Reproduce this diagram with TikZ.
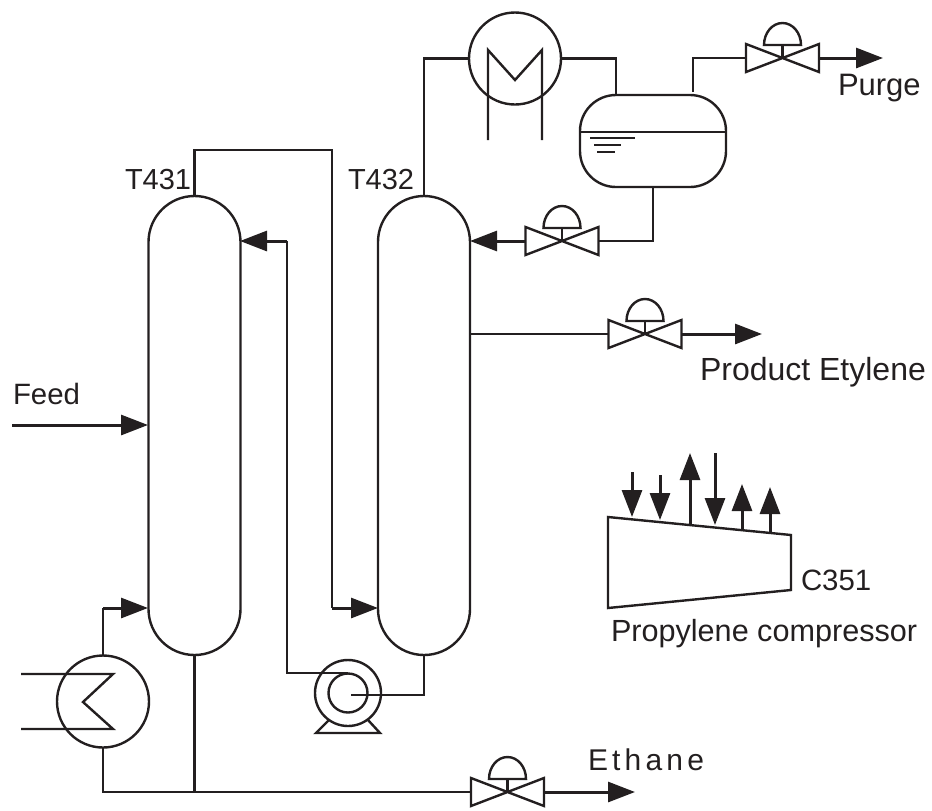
\documentclass[tikz,border=0pt]{standalone}
\usepackage{fontspec}
\setmainfont{Liberation Sans}
\usetikzlibrary{arrows.meta}
\definecolor{ink}{HTML}{231F20}
\tikzset{
  pipe/.style={draw=ink,line width=1.2pt,line join=miter},
  flow/.style={draw=ink,line width=1.5pt,-{Triangle[length=13.5pt,width=10pt]},color=ink},
  column/.style={draw=ink,line width=1.2pt,rectangle,rounded corners=23pt,minimum width=46pt,minimum height=229.5pt,inner sep=0pt,outer sep=0pt},
  drumbox/.style={draw=ink,line width=1.2pt,rectangle,rounded corners=18pt,minimum width=73pt,minimum height=46pt,inner sep=0pt,outer sep=0pt},
  exch/.style={draw=ink,line width=1.2pt,circle,minimum size=46pt,inner sep=0pt,outer sep=0pt},
  pumpouter/.style={draw=ink,line width=1.2pt,circle,minimum size=33pt,inner sep=0pt,outer sep=0pt},
  pumpinner/.style={draw=ink,line width=1.2pt,circle,minimum size=19.5pt,inner sep=0pt,outer sep=0pt},
  valvebox/.style={rectangle,minimum width=36.5pt,minimum height=14pt,inner sep=0pt,outer sep=0pt},
  lab/.style={anchor=base west,inner sep=0pt,outer sep=0pt,text=ink,font=\fontsize{15.5}{18}\selectfont},
}
\newcommand{\ctlvalve}[3]{%
  \node[valvebox] (#1) at (#2,#3) {};
  \draw[pipe,shift={(#2,#3)}] (-36.5,-14) -- (36.5,14) -- (36.5,-14) -- (-36.5,14) -- cycle;
  \draw[pipe,shift={(#2,#3)}] (0,0) -- (0,-13);
  \draw[pipe,shift={(#2,#3)}] (-18.5,-13) arc[start angle=180,end angle=0,x radius=9.25pt,y radius=11pt] -- cycle;
}
\begin{document}
\begin{tikzpicture}[x=0.5pt,y=-0.5pt]
\useasboundingbox (0,0) rectangle (932,810);

% columns
\node[column] (T431) at (194.5,425.5) {};
\node[column] (T432) at (424,425.5) {};

% condenser
\node[exch] (cond) at (515,58.5) {};
\draw[pipe] (488,140) -- (488,50) -- (515,80) -- (542,50) -- (542,140);

% drum
\node[drumbox] (drum) at (653,141) {};
\draw[pipe] (drum.west |- 0,132) -- (drum.east |- 0,132);
\draw[pipe,line width=1pt] (590,138) -- (635,138) (594,145) -- (621,145) (597,152) -- (615,152);
\coordinate (drumA) at (616,95);
\coordinate (drumB) at (693,92);

% reboiler
\node[exch] (reb) at (103,701.5) {};
\draw[pipe] (21,674) -- (113,674) -- (83,702) -- (113,729) -- (21,729);

% pump
\node[pumpouter] (pump) at (348,693) {};
\node[pumpinner] (pumpi) at (348,693) {};
\draw[pipe] (329,720) -- (316,733) -- (380,733) -- (368,720);
\coordinate (pumpin) at (351,695);
\coordinate (pumpout) at (348,673);

% valves
\ctlvalve{vpurge}{782.5}{58}
\ctlvalve{vreflux}{562}{241}
\ctlvalve{vprod}{645}{334}
\ctlvalve{veth}{507.5}{792}

% free ends
\coordinate (purgeEnd) at (883,58);
\coordinate (prodEnd) at (762,334);
\coordinate (ethEnd) at (635,792);
\coordinate (feedStart) at (12,425);
\coordinate (feedIn) at (148,425);
\coordinate (r1in) at (240,241);
\coordinate (r2in) at (470,241);
\coordinate (t1low) at (148,608);
\coordinate (t2low) at (378,608);
\coordinate (t2side) at (470,334);

% connectors
\draw[pipe] (T432.north) |- (cond.west);
\draw[pipe] (cond.east) -| (drumA);
\draw[pipe] (drumB) |- (vpurge.west);
\draw[flow] (vpurge.east) -- (purgeEnd);
\draw[pipe] (drum.south) |- (vreflux.east);
\draw[flow] (vreflux.west) -- (r2in);
\draw[pipe] (t2side) -- (vprod.west);
\draw[flow] (vprod.east) -- (prodEnd);
\draw[flow] (feedStart) -- (feedIn);
\draw[pipe] (T431.north) -- ++(0,-46) -| (332,608);
\draw[flow] (332,608) -- (t2low);
\draw[pipe] (pumpout) -- (287,673) -- (287,241);
\draw[flow] (287,241) -- (r1in);
\draw[pipe] (T432.south) |- (pumpin);
\draw[pipe] (reb.north) -- (reb.north |- t1low);
\draw[flow] (reb.north |- t1low) -- (t1low);
\draw[pipe] (reb.south) |- (veth.west);
\draw[pipe] (T431.south) -- (T431.south |- veth.west);
\draw[flow] (veth.east) -- (ethEnd);

% compressor
\draw[pipe] (608,517) -- (791,535) -- (791,590) -- (608,608) -- cycle;
\coordinate (a1s) at (632,472); \coordinate (a1e) at (632,517);
\coordinate (a2s) at (660,475); \coordinate (a2e) at (660,520);
\coordinate (a3s) at (690,525); \coordinate (a3e) at (690,453);
\coordinate (a4s) at (715,453); \coordinate (a4e) at (715,525);
\coordinate (a5s) at (742,530); \coordinate (a5e) at (742,484);
\coordinate (a6s) at (770,533); \coordinate (a6e) at (770,487);
\foreach \n in {1,...,6} {\draw[flow] (a\n s) -- (a\n e);}

% labels
\node[lab] (lPurge) at (838,95) {Purge};
\node[lab,font=\fontsize{16}{18}\selectfont] (lProd) at (700,380) {Product Etylene};
\node[lab,font=\fontsize{14.7}{18}\selectfont] (lFeed) at (13,404) {Feed};
\node[lab,font=\fontsize{14.5}{18}\selectfont] (l431) at (125,189) {T431};
\node[lab,font=\fontsize{14.5}{18}\selectfont] (l432) at (348,189) {T432};
\node[lab,font=\fontsize{14.7}{18}\selectfont] (lC) at (801,590) {C351};
\node[lab,font=\fontsize{15.3}{18}\selectfont] (lProp) at (611,641) {Propylene compressor};
\node[lab,font=\fontsize{15}{18}\selectfont] (lEth) at (588,770) {\addfontfeature{LetterSpace=14}Ethane};
\end{tikzpicture}
\end{document}
